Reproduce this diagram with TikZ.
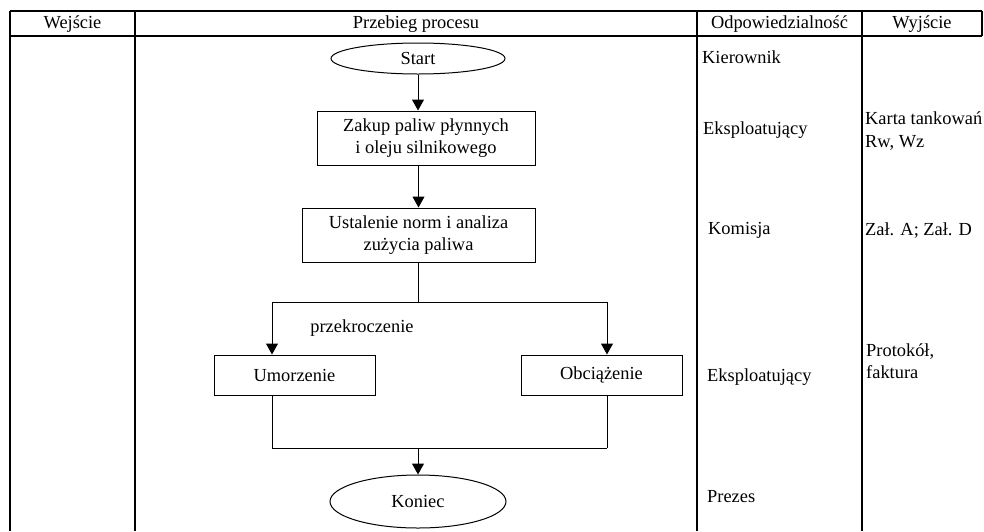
\documentclass[tikz,border=0pt]{standalone}
\usepackage{fontspec}
\setmainfont{Liberation Serif}
\usetikzlibrary{arrows.meta,shapes.geometric}

\tikzset{
  txt/.style={font=\fontsize{18.4}{22.5}\selectfont},
  cell/.style={txt, inner sep=0pt, anchor=west, align=left},
  head/.style={txt, inner sep=0pt},
  stepbox/.style={txt, draw, line width=1pt, rectangle, inner sep=0pt, align=center},
  terminal/.style={txt, draw, line width=1pt, ellipse, inner sep=0pt},
  flow/.style={line width=1pt},
  arr/.style={flow, -{Triangle[width=12pt,length=11pt]}},
  grid/.style={line width=1.5pt},
}

\begin{document}
\begin{tikzpicture}[x=1pt, y=-1pt]
  \useasboundingbox (0,0) rectangle (984,531);

  % table frame
  \draw[grid] (10,11) -- (982,11);
  \draw[grid] (10,36) -- (982,36);
  \draw[line width=2pt] (10,11) -- (10,531);
  \draw[grid] (135,11) -- (135,531);
  \draw[grid] (697,11) -- (697,531);
  \draw[grid] (862,11) -- (862,531);
  \draw[grid] (982,11) -- (982,36);

  % column headings
  \node[head] (hin)   at (72.5,24)  {Wejście};
  \node[head] (hproc) at (416,24)   {Przebieg procesu};
  \node[head] (hresp) at (779.5,24) {Odpowiedzialność};
  \node[head] (hout)  at (922,24)   {Wyjście};

  % process flow
  \node[terminal, minimum width=174pt, minimum height=31pt] (start) at (418,58.5) {Start};
  \node[stepbox, minimum width=218pt, minimum height=54pt] (zakup) at (426,138)
    {Zakup paliw płynnych\\i oleju silnikowego};
  \node[stepbox, minimum width=233pt, minimum height=54pt] (ustal) at (418.5,235)
    {Ustalenie norm i analiza\\zużycia paliwa};
  \node[stepbox, minimum width=161pt, minimum height=40pt] (umorz) at (294.5,375) {Umorzenie};
  \node[stepbox, minimum width=161pt, minimum height=40pt] (obc) at (601.5,375) {Obciążenie};
  \node[terminal, minimum width=176pt, minimum height=53pt] (koniec) at (418,501.5) {Koniec};

  \coordinate (bl) at (272,302);
  \coordinate (br) at (607,302);
  \coordinate (jl) at (272,448);
  \coordinate (jr) at (607,448);

  \draw[arr] (start.south) -- (start.south |- zakup.north);
  \draw[arr] (ustal.north |- zakup.south) -- (ustal.north);
  \draw[flow] (ustal.south) -- (ustal.south |- bl);
  \draw[flow] (bl) -- (br);
  \draw[arr] (bl) -- (bl |- umorz.north);
  \draw[arr] (br) -- (br |- obc.north);
  \draw[flow] (bl |- umorz.south) -- (jl);
  \draw[flow] (br |- obc.south) -- (jr);
  \draw[flow] (jl) -- (jr);
  \draw[arr] (koniec.north |- jl) -- (koniec.north);

  \node[txt, inner sep=0pt] (przekr) at (362,328) {przekroczenie};

  % responsibility column
  \node[cell] (r1) at (702,57)  {Kierownik};
  \node[cell] (r2) at (703,130) {Eksploatujący};
  \node[cell] (r3) at (708,230) {Komisja};
  \node[cell] (r4) at (707,377) {Eksploatujący};
  \node[cell] (r5) at (707,497) {Prezes};

  % output column
  \node[cell] (o1) at (865,131) {Karta tankowań\\Rw, Wz};
  \node[cell] (o2) at (865,231) {Zał. A; Zał. D};
  \node[cell] (o3) at (866,361) {Protokół,\\faktura};
\end{tikzpicture}
\end{document}
